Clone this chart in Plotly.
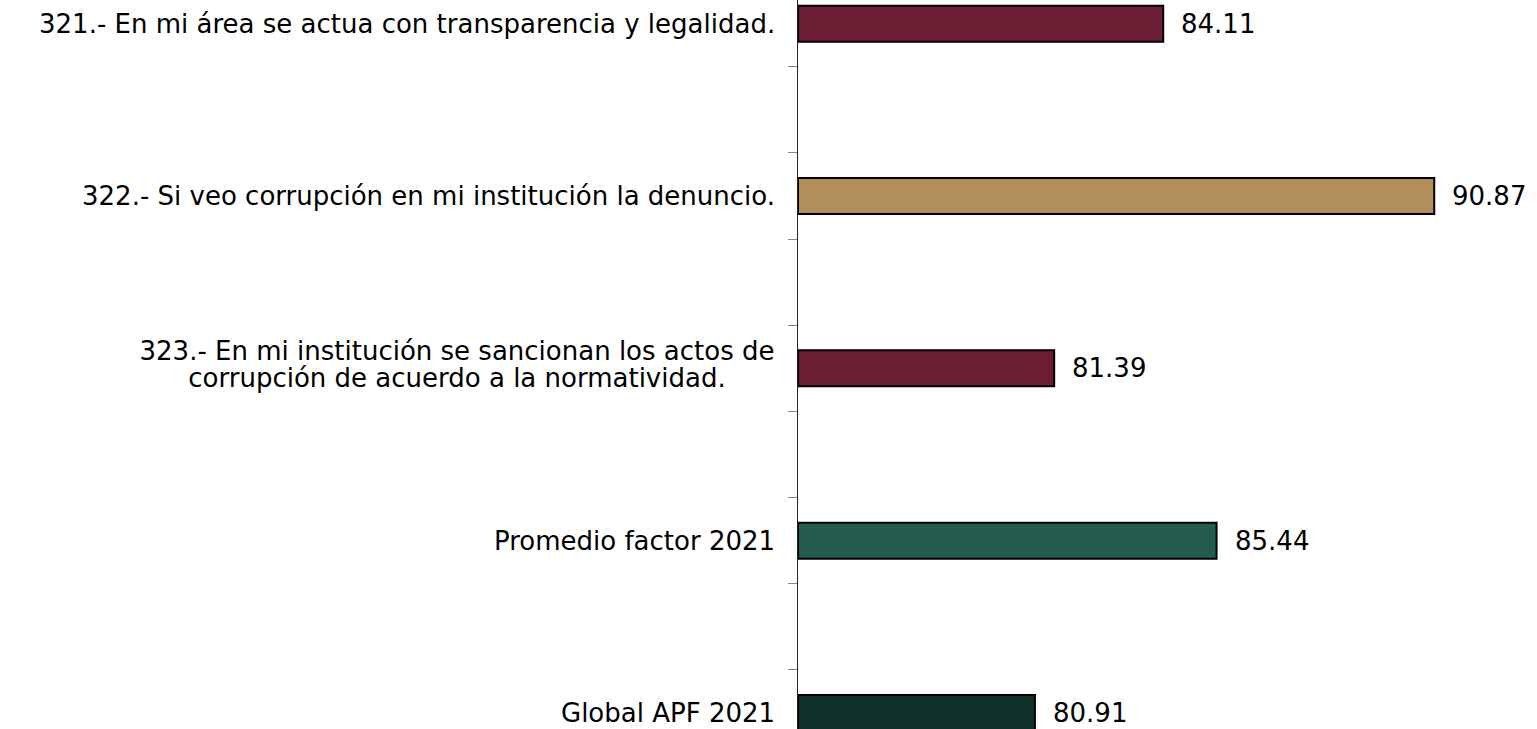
import plotly.graph_objects as go

categories = [
    "321.- En mi área se actua con transparencia y legalidad.",
    "322.- Si veo corrupción en mi institución la denuncio.",
    "323.- En mi institución se sancionan los actos de<br>corrupción de acuerdo a la normatividad.",
    "Promedio factor 2021",
    "Global APF 2021",
]
values = [84.11, 90.87, 81.39, 85.44, 80.91]
value_labels = ["84.11", "90.87", "81.39", "85.44", "80.91"]
colors = ["#6B1D33", "#B38E5D", "#6B1D33", "#235B4E", "#10312B"]

positions = list(range(len(categories)))
FONT = "DejaVu Sans"
FSIZE = 26

fig = go.Figure()
fig.add_trace(go.Bar(
    x=[v - 75 for v in values],
    base=75,
    y=positions,
    orientation="h",
    width=0.209,
    marker=dict(color=colors, line=dict(color="#000000", width=2)),
    hoverinfo="skip",
))

# value labels
for p, v, t in zip(positions, values, value_labels):
    fig.add_annotation(x=v, y=p, text=t, showarrow=False, xanchor="left",
                       yanchor="middle", xshift=16,
                       font=dict(family=FONT, size=FSIZE, color="#000000"))

# category labels (tight line spacing for the two-line label, lines centred on each other)
for p, cat in zip(positions, categories):
    lines = cat.split("<br>")
    if len(lines) == 1:
        fig.add_annotation(x=0, xref="paper", y=p, yref="y", text=cat,
                           showarrow=False, xanchor="right", yanchor="middle",
                           xshift=-21,
                           font=dict(family=FONT, size=FSIZE, color="#000000"))
    else:
        for line, s in zip(lines, [17, -10]):
            fig.add_annotation(x=0, xref="paper", y=p, yref="y", text=line,
                               showarrow=False, xanchor="right", yanchor="middle",
                               xshift=-21, yshift=s, width=636, align="center",
                               font=dict(family=FONT, size=FSIZE, color="#000000"))

fig.update_layout(
    width=1537, height=729,
    margin=dict(l=798, r=0, t=0, b=0, autoexpand=False),
    paper_bgcolor="white", plot_bgcolor="white",
    showlegend=False,
    font=dict(family=FONT, size=FSIZE, color="#000000"),
)
fig.update_xaxes(range=[75, 75 + 739 / 40.09], visible=False, showgrid=False, zeroline=False)
fig.update_yaxes(
    range=[4.093, -0.1376],
    tickmode="array", tickvals=positions, showticklabels=False,
    ticks="", showgrid=False, zeroline=False,
    showline=True, linecolor="#222222", linewidth=1,
    minor=dict(tickmode="array", tickvals=[0.25, 0.75, 1.25, 1.75, 2.25, 2.75, 3.25, 3.75],
               ticks="outside", ticklen=9, tickcolor="#888888", tickwidth=1, showgrid=False),
)

fig.write_html("out.html", config={"displayModeBar": False},
               post_script="document.body.style.margin='0';document.body.style.overflow='hidden';")
